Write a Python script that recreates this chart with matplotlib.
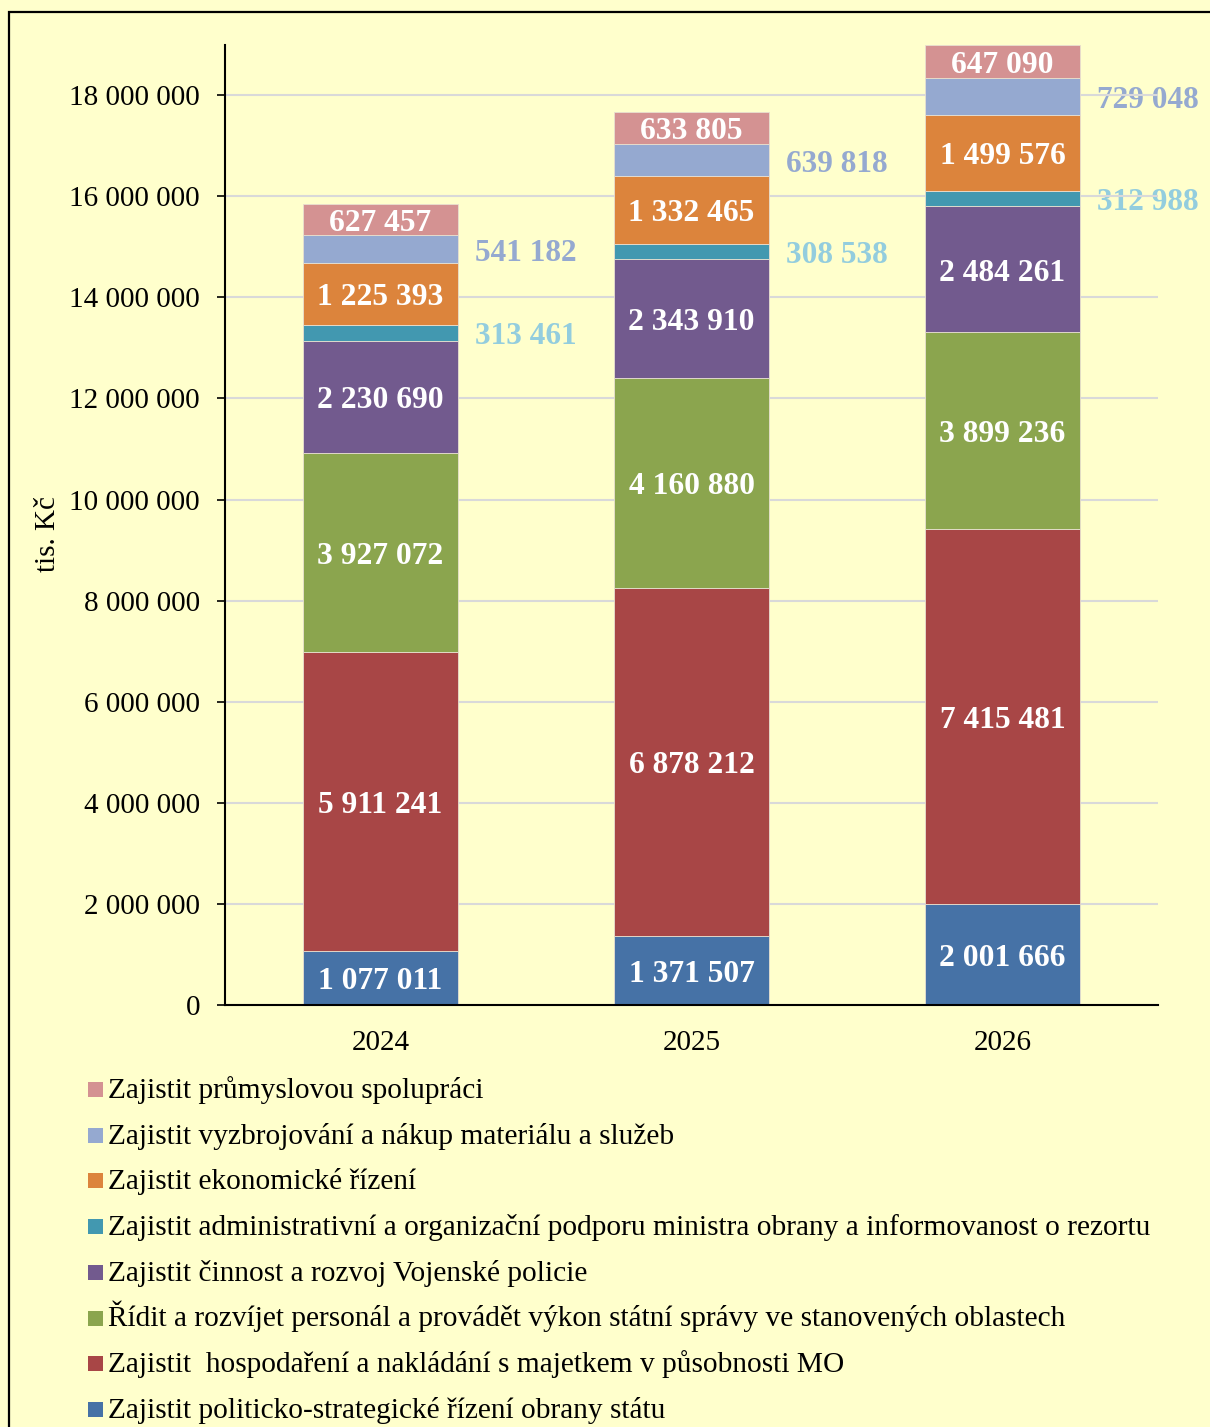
#!/usr/bin/env python3

"""Stacked bar chart of the programme expenditures 2024-2026 (tis. Kč)."""

import matplotlib.pyplot as plt
import matplotlib.transforms as mtransforms
import numpy as np
from matplotlib.patches import Rectangle

plt.rcParams["font.family"] = ["Liberation Serif", "DejaVu Serif"]

years = ["2024", "2025", "2026"]

# series from the bottom of the stack to the top
names = [
    "Zajistit politicko-strategické řízení obrany státu",
    "Zajistit  hospodaření a nakládání s majetkem v působnosti MO",
    "Řídit a rozvíjet personál a provádět výkon státní správy ve stanovených oblastech",
    "Zajistit činnost a rozvoj Vojenské policie",
    "Zajistit administrativní a organizační podporu ministra obrany a informovanost o rezortu",
    "Zajistit ekonomické řízení",
    "Zajistit vyzbrojování a nákup materiálu a služeb",
    "Zajistit průmyslovou spolupráci",
]
politicko = [1077011, 1371507, 2001666]
majetek = [5911241, 6878212, 7415481]
personal = [3927072, 4160880, 3899236]
policie = [2230690, 2343910, 2484261]
administrativa = [313461, 308538, 312988]
ekonomika = [1225393, 1332465, 1499576]
vyzbrojovani = [541182, 639818, 729048]
prumysl = [627457, 633805, 647090]

series = [politicko, majetek, personal, policie,
          administrativa, ekonomika, vyzbrojovani, prumysl]
colors = ["#4672A6", "#A84646", "#8BA54E", "#725A8E",
          "#4298B0", "#DC843C", "#95A9D0", "#D49292"]
# small segments get their label outside the bar, in their own colour
outside = {4: "#93CDDE", 6: "#95A9D0"}

bg = "#FFFFCC"
W, H = 1210, 1427


def fmt(v):
    return f"{v:,}".replace(",", " ")


fig = plt.figure(figsize=(W / 100, H / 100), dpi=100, facecolor=bg)
ax = fig.add_axes([0.186, 0.2957, 0.771, 0.673])
ax.set_facecolor(bg)

# labels sit a few pixels below the segment centre, as in the original
down = mtransforms.offset_copy(ax.transData, fig=fig, x=0, y=-4, units="dots")

x = np.arange(len(years))
width = 0.5
bottom = np.zeros(len(years))
for i, (vals, col) in enumerate(zip(series, colors)):
    vals = np.array(vals)
    ax.bar(x, vals, width, bottom=bottom, color=col, edgecolor="#E8E0D0",
           linewidth=0.6, zorder=2)
    for xi, b, v in zip(x, bottom, vals):
        yc = b + v / 2
        if i in outside:
            ax.text(xi + width / 2 + 0.055, yc, fmt(v), ha="left", va="center",
                    fontsize=22.5, fontweight="bold", color=outside[i],
                    zorder=0.4, transform=down)
        else:
            ax.text(xi, yc, fmt(v), ha="center", va="center", fontsize=22.7,
                    fontweight="bold", color="white", zorder=3,
                    transform=down)
    bottom += vals

ax.set_xlim(-0.5, 2.5)
ax.set_ylim(0, 19000000)
ax.set_yticks(np.arange(0, 18000001, 2000000))
ax.yaxis.set_major_formatter(plt.FuncFormatter(lambda v, p: fmt(int(v))))
ax.set_xticks(x)
ax.set_xticklabels(years)
ax.tick_params(axis="y", labelsize=21, length=6, width=1.2, pad=12)
ax.tick_params(axis="x", labelsize=21, length=0, pad=18)
ax.set_ylabel("tis. Kč", fontsize=21)
ax.yaxis.set_label_coords(-0.176, 0.49)

ax.set_axisbelow(True)
ax.grid(axis="y", color="#D9D9D9", linewidth=1.5, zorder=0.5)
for s in ("top", "right"):
    ax.spines[s].set_visible(False)
for s in ("left", "bottom"):
    ax.spines[s].set_linewidth(1.5)

# legend below the plot, top entry = top of the stack, evenly spaced rows
for k, (name, col) in enumerate(zip(names[::-1], colors[::-1])):
    base = 1098 + k * 45.7
    fig.patches.append(Rectangle((88 / W, 1 - (base - 1) / H), 15 / W, 15 / H,
                                 transform=fig.transFigure, facecolor=col,
                                 edgecolor="none"))
    fig.text(108 / W, 1 - base / H, name, ha="left", va="baseline",
             fontsize=21.2)

# page frame around the chart
fig.patches.append(Rectangle((9 / W, -0.05), 1.2, 1 - 12 / H + 0.05,
                             transform=fig.transFigure, fill=False,
                             edgecolor="black", linewidth=1.6))

plt.savefig("out.png", dpi=100, facecolor=bg)
